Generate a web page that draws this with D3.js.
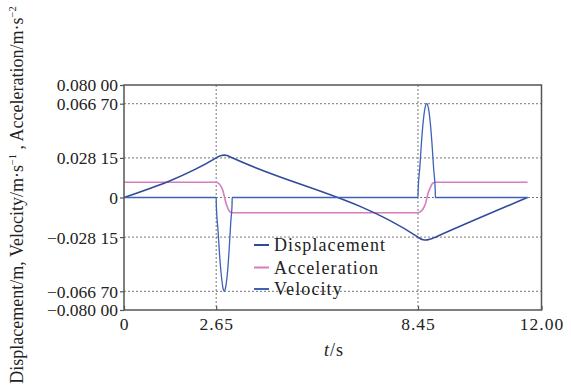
<!DOCTYPE html>
<html>
<head>
<meta charset="utf-8">
<script src="https://cdn.jsdelivr.net/npm/d3@7"></script>
<style>
  html, body { margin: 0; padding: 0; background: #fff; }
  svg { display: block; }
  text { font-family: "Liberation Serif", "Times New Roman", serif; fill: #222; }
</style>
</head>
<body>
<svg id="chart" width="571" height="391"></svg>
<script>
// ---- data ----
const dispT = [0, 2.65, 2.72, 2.80, 2.88, 2.96, 3.04, 3.11, 8.45, 8.52, 8.60, 8.68, 8.76, 8.86, 8.95, 11.60];
const dispV = [0, 0.02815, 0.0292, 0.0299, 0.0301, 0.0298, 0.0290, 0.0282, -0.02815, -0.0293, -0.0300, -0.0302, -0.0299, -0.0292, -0.0282, 0];

const accT = [0, 2.65, 2.70, 2.75, 2.80, 2.85, 2.88, 2.92, 2.97, 3.02, 3.07, 3.11, 8.45, 8.50, 8.56, 8.62, 8.67, 8.70, 8.74, 8.80, 8.85, 8.91, 8.95, 11.60];
const accV = [0.0108, 0.0108, 0.0104, 0.0093, 0.0074, 0.0042, 0.0012, -0.0030, -0.0068, -0.0094, -0.0106, -0.0108, -0.0108, -0.0104, -0.0092, -0.0070, -0.0040, -0.0010, 0.0030, 0.0068, 0.0094, 0.0106, 0.0108, 0.0108];

const velT = [0, 2.65, 2.654, 2.70, 2.75, 2.80, 2.85, 2.88, 2.92, 2.97, 3.02, 3.07, 3.106, 3.11, 8.45, 8.454, 8.50, 8.55, 8.60, 8.65, 8.70, 8.75, 8.80, 8.85, 8.90, 8.946, 8.95, 11.60];
const velV = [0, 0, -0.0060, -0.0226, -0.0418, -0.0560, -0.0650, -0.0667, -0.0640, -0.0545, -0.0380, -0.0170, -0.0050, 0, 0, 0.0055, 0.0206, 0.0392, 0.0540, 0.0634, 0.0667, 0.0634, 0.0540, 0.0392, 0.0206, 0.0050, 0, 0];

const yTicks = [0.08, 0.0667, 0.02815, 0, -0.02815, -0.0667, -0.08];
const yTickLabels = ["0.080 00", "0.066 70", "0.028 15", "0", "\u22120.028 15", "\u22120.066 70", "\u22120.080 00"];
const yGrid = [0.0667, 0.02815, -0.02815, -0.0667];
const xTicks = [0, 2.65, 8.45, 12];
const xTickLabels = ["0", "2.65", "8.45", "12.00"];
const xGrid = [2.65, 8.45];

const seriesNames = ["Displacement", "Acceleration", "Velocity"];
const seriesColors = ["#2f4b9e", "#d67cc0", "#3d62b8"];

// ---- layout ----
const svg = d3.select("#chart");
const M = { left: 124, right: 541.5, top: 85, bottom: 310 };
const x = d3.scaleLinear().domain([0, 12]).range([M.left, M.right]);
const y = d3.scaleLinear().domain([-0.08, 0.08]).range([M.bottom, M.top]);

// grid
const g = svg.append("g");
g.selectAll(".hg").data(yGrid).enter().append("line")
  .attr("x1", M.left).attr("x2", M.right)
  .attr("y1", d => y(d)).attr("y2", d => y(d))
  .attr("stroke", "#777").attr("stroke-width", 1).attr("stroke-dasharray", "2,2");
g.append("line")
  .attr("x1", M.left).attr("x2", M.right)
  .attr("y1", y(0)).attr("y2", y(0))
  .attr("stroke", "#777").attr("stroke-width", 1).attr("stroke-dasharray", "2,2");
g.selectAll(".vg").data(xGrid).enter().append("line")
  .attr("y1", M.top).attr("y2", M.bottom)
  .attr("x1", d => x(d)).attr("x2", d => x(d))
  .attr("stroke", "#777").attr("stroke-width", 1).attr("stroke-dasharray", "2,2");

// series
const series = [
  { t: dispT, v: dispV, c: seriesColors[0], w: 1.6 },
  { t: accT, v: accV, c: seriesColors[1], w: 1.6 },
  { t: velT, v: velV, c: seriesColors[2], w: 1.3 }
];
[series[1], series[0], series[2]].forEach(s => {
  svg.append("path")
    .datum(s.t.map((t, i) => [t, s.v[i]]))
    .attr("d", d3.line().x(d => x(d[0])).y(d => y(d[1])).curve(d3.curveMonotoneX))
    .attr("fill", "none").attr("stroke", s.c).attr("stroke-width", s.w);
});

// frame
svg.append("rect")
  .attr("x", M.left).attr("y", M.top)
  .attr("width", M.right - M.left).attr("height", M.bottom - M.top)
  .attr("fill", "none").attr("stroke", "#555").attr("stroke-width", 1.5);

// axes
const yAxis = d3.axisLeft(y).tickValues(yTicks).tickSize(4).tickPadding(2)
  .tickFormat((d, i) => yTickLabels[i]);
const ya = svg.append("g").attr("transform", `translate(${M.left},0)`).call(yAxis);
ya.select(".domain").remove();
ya.selectAll(".tick line").attr("stroke", "#555").attr("stroke-width", 1.2);
ya.selectAll(".tick text").attr("font-size", 17.5).attr("font-family", "Liberation Serif").attr("fill", "#222").attr("dy", "0.34em");

const xAxis = d3.axisBottom(x).tickValues(xTicks).tickSize(-4).tickPadding(8)
  .tickFormat((d, i) => xTickLabels[i]);
const xa = svg.append("g").attr("transform", `translate(0,${M.bottom})`).call(xAxis);
xa.select(".domain").remove();
xa.selectAll(".tick line").attr("stroke", "#555").attr("stroke-width", 1.2);
xa.selectAll(".tick text").attr("font-size", 17.5).attr("font-family", "Liberation Serif").attr("fill", "#222").attr("letter-spacing", 1);

// axis titles
const xt = svg.append("text").attr("x", 334).attr("y", 356).attr("text-anchor", "middle").attr("font-size", 18).attr("letter-spacing", 1);
xt.append("tspan").attr("font-style", "italic").text("t");
xt.append("tspan").text("/s");

const yt = svg.append("text").attr("transform", "translate(23,195) rotate(-90)")
  .attr("text-anchor", "middle").attr("font-size", 18);
yt.append("tspan").text("Displacement/m,  Velocity/m\u00b7s");
yt.append("tspan").attr("font-size", 10.5).attr("dy", -7.5).text("\u22121");
yt.append("tspan").attr("dy", 7.5).text(" ,  Acceleration/m\u00b7s");
yt.append("tspan").attr("font-size", 10.5).attr("dy", -7.5).text("\u22122");

// legend
const leg = svg.append("g");
const legY = [245, 267.5, 289];
seriesNames.forEach((n, i) => {
  leg.append("line").attr("x1", 254).attr("x2", 269).attr("y1", legY[i]).attr("y2", legY[i])
    .attr("stroke", seriesColors[i]).attr("stroke-width", 2);
  leg.append("text").attr("x", 274).attr("y", legY[i]).attr("dy", "0.35em")
    .attr("font-size", 18).attr("letter-spacing", 1.1).text(n);
});
</script>
</body>
</html>
